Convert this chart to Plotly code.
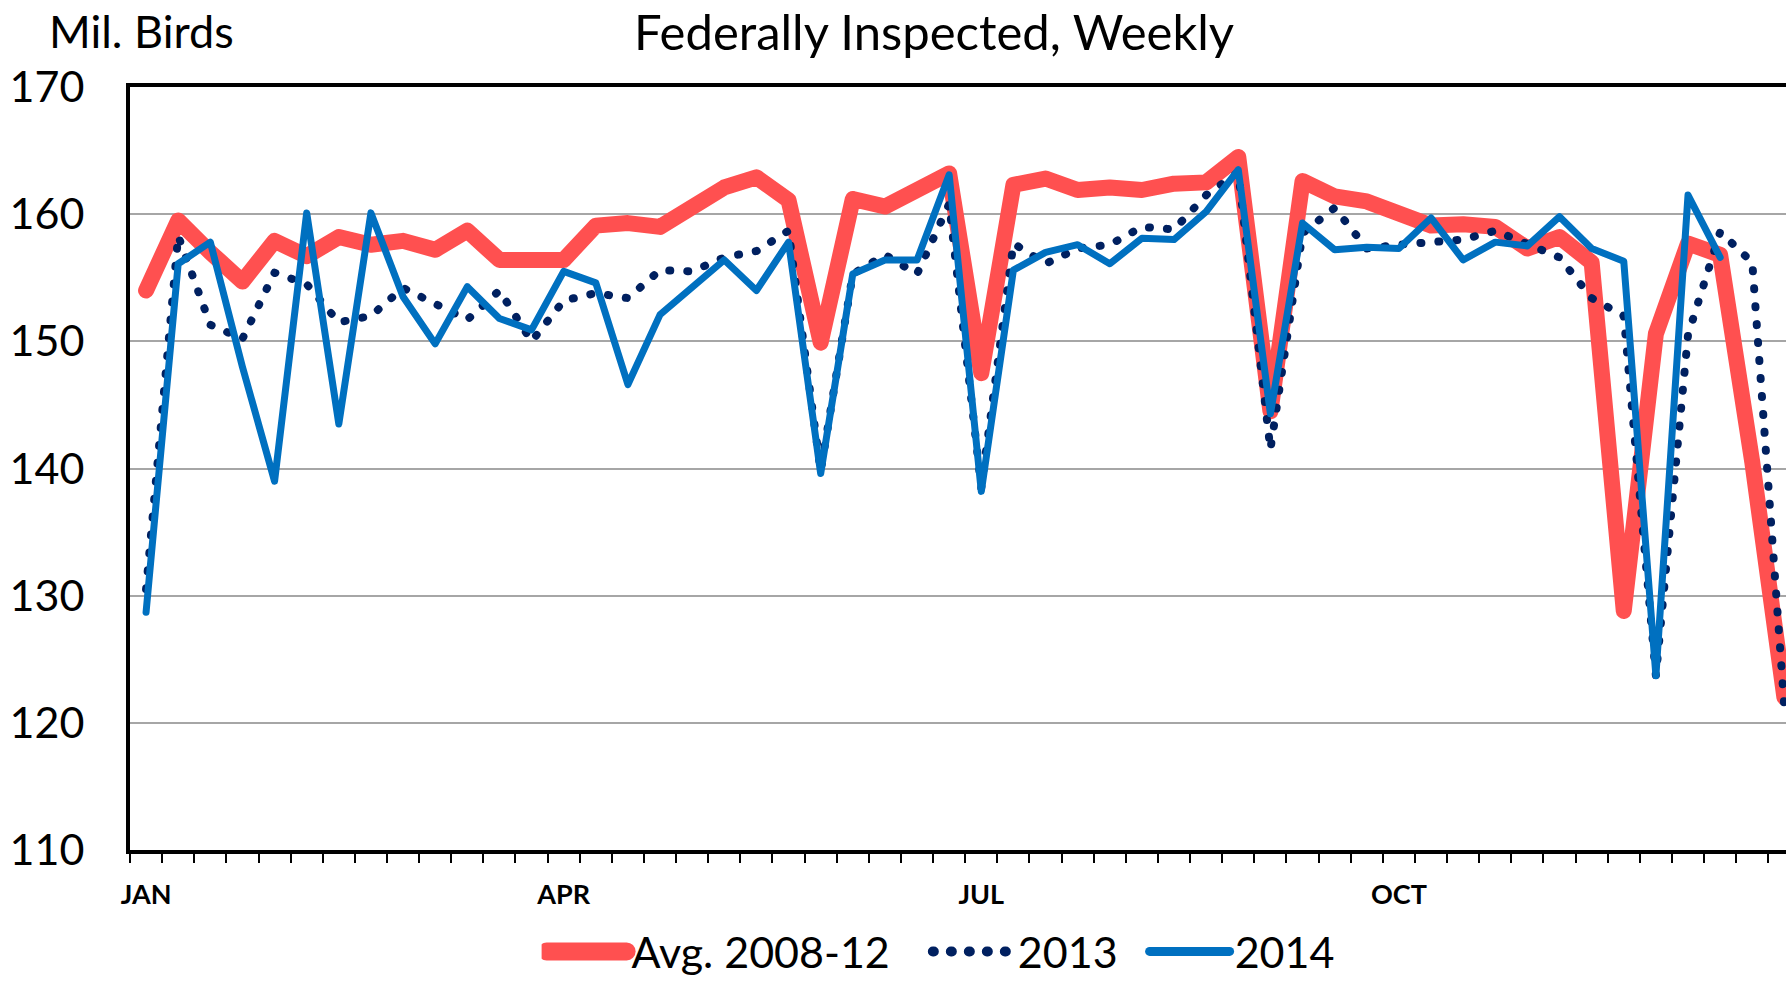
import plotly.graph_objects as go

# ---- data (million birds, weekly; week index starts at first week of January) ----
avg_2008_12 = [154.0, 159.5, 157.0, 154.7, 157.9, 156.7, 158.2, 157.6, 157.9, 157.2,
               158.7, 156.4, 156.4, 156.4, 159.1, 159.3, 159.0, 160.7, 162.1, 162.9,
               161.1, 149.9, 161.2, 160.6, 161.9, 163.2, 147.5, 162.3, 162.8, 161.9,
               162.1, 161.9, 162.4, 162.5, 164.5, 144.5, 162.6, 161.4, 161.0, 159.9,
               159.1, 159.2, 159.0, 157.3, 158.2, 156.2, 128.8, 150.6, 157.7, 156.8,
               140.5, 122.0]
y2013 = [130.5, 158.3, 151.3, 150.2, 155.4, 154.5, 151.5, 152.0, 154.2, 153.0,
         151.7, 154.0, 150.0, 153.2, 153.8, 153.4, 155.6, 155.5, 156.6, 157.1,
         158.7, 139.8, 155.3, 156.8, 155.3, 160.8, 138.5, 157.7, 156.1, 157.3,
         157.6, 159.0, 158.8, 161.5, 163.3, 141.5, 158.5, 160.5, 157.3, 157.6,
         157.8, 158.0, 158.7, 157.7, 156.6, 153.4, 152.0, 123.7, 150.5, 158.6,
         156.2, 121.2]
y2014 = [128.7, 156.1, 157.8, 148.0, 139.0, 160.1, 143.5, 160.1, 153.5, 149.8,
         154.3, 151.8, 150.9, 155.5, 154.6, 146.6, 152.1, 154.3, 156.4, 154.0,
         157.8, 139.6, 155.3, 156.4, 156.4, 163.1, 138.2, 155.6, 157.0, 157.6,
         156.1, 158.1, 158.0, 160.2, 163.5, 144.3, 159.3, 157.2, 157.4, 157.3,
         159.7, 156.4, 157.8, 157.5, 159.8, 157.3, 156.3, 123.7, 161.5, 156.6]
month_labels = ["JAN", "APR", "JUL", "OCT"]
month_weeks = [0, 13, 26, 39]
y_ticks = [110, 120, 130, 140, 150, 160, 170]
series_names = ["Avg. 2008-12", "2013", "2014"]

FONT = "Lato"
NB = "\u00a0"  # spacing between legend entries

fig = go.Figure()
fig.add_trace(go.Scatter(x=list(range(len(avg_2008_12))), y=avg_2008_12, mode="lines",
                         name=series_names[0] + NB * 3,
                         line=dict(color="#FF5050", width=16)))
fig.add_trace(go.Scatter(x=list(range(len(y2013))), y=y2013, mode="lines",
                         name=series_names[1] + NB * 2,
                         line=dict(color="#002060", width=8, dash="1px,17px")))
fig.add_trace(go.Scatter(x=list(range(len(y2014))), y=y2014, mode="lines",
                         name=series_names[2],
                         line=dict(color="#0070C0", width=7)))

fig.update_layout(
    width=1786, height=982,
    margin=dict(l=130, r=0, t=87, b=132, autoexpand=False),
    paper_bgcolor="white", plot_bgcolor="white",
    font=dict(family=FONT, color="black"),
    showlegend=True,
    legend=dict(orientation="h", x=0.4895, xanchor="center", y=-0.133, yanchor="middle",
                font=dict(size=43, family=FONT), itemwidth=80,
                bgcolor="rgba(0,0,0,0)"),
    xaxis=dict(
        range=[-0.5, 51.05], automargin=False,
        tickmode="array", tickvals=month_weeks, ticktext=month_labels,
        ticks="", showgrid=False, zeroline=False,
        tickfont=dict(size=27, family=FONT, weight="bold"),
        ticklabelstandoff=18,
        showline=True, linecolor="black", linewidth=4, mirror=True,
        minor=dict(tickmode="array", tickvals=[k - 0.5 for k in range(54)],
                   ticks="outside", ticklen=9, tickwidth=2, tickcolor="black",
                   showgrid=False),
    ),
    yaxis=dict(
        range=[110, 170], automargin=False, tickmode="array", tickvals=y_ticks,
        ticks="", showgrid=True, gridcolor="#A6A6A6", gridwidth=1.5,
        zeroline=False, showline=True, linecolor="black", linewidth=4,
        tickfont=dict(size=43, family=FONT), ticklabelstandoff=33,
    ),
    annotations=[
        dict(text="Federally Inspected, Weekly", xref="paper", yref="paper",
             x=0.4855, y=1.1136, xanchor="center", yanchor="top", showarrow=False,
             font=dict(size=49, family=FONT)),
        dict(text="Mil. Birds", xref="paper", yref="paper",
             x=-0.050, y=1.074, xanchor="left", yanchor="middle", showarrow=False,
             font=dict(size=45, family=FONT)),
    ],
)

post = """
var gd = document.getElementById('{plot_id}');
function fixStyle(){
  document.body.style.margin = '0';
  document.body.style.overflow = 'hidden';
  gd.querySelectorAll('path.js-line').forEach(function(p){
    p.style.strokeLinecap = 'round';
    p.style.strokeLinejoin = 'round';
  });
  var items = gd.querySelectorAll('.legend g.traces');
  items.forEach(function(g, i){
    var p = g.querySelector('.legendlines path');
    if (p && gd.data[i] && gd.data[i].line) {
      p.style.strokeWidth = Math.min(gd.data[i].line.width + 2, 18) + 'px';
    }
  });
}
fixStyle();
if (gd.on) { gd.on('plotly_afterplot', fixStyle); }
"""

fig.write_html("out.html", post_script=post, config={"displayModeBar": False})
